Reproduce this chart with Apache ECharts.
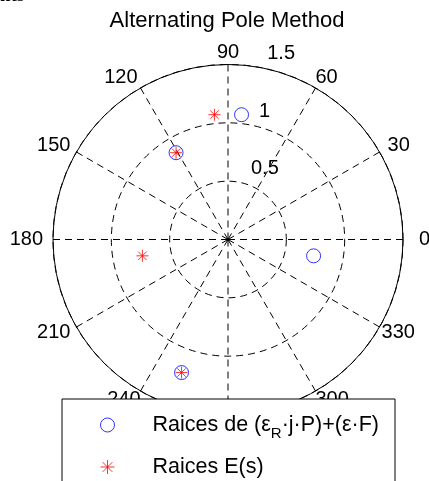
<!DOCTYPE html>
<html>
<head>
<meta charset="utf-8">
<script src="https://cdn.jsdelivr.net/npm/echarts@6/dist/echarts.min.js"></script>
<style>
  html, body { margin: 0; padding: 0; background: #fff; }
  #chart { width: 429px; height: 481px; }
</style>
</head>
<body>
<div id="chart"></div>
<script>
// Root locations in polar form: [radius, angle in degrees]
const rootsPF = [[1.076, 83.8], [0.867, 120.9], [0.747, 349.2], [1.208, 250.75]];
const rootsE  = [[1.076, 96.2], [0.867, 120.9], [0.747, 190.8], [1.208, 250.75]];

const seriesNames = ['Raices de (εR·j·P)+(ε·F)', 'Raices E(s)'];
const titleText = 'Alternating Pole Method';
const radiusMax = 1.5;
const radiusStep = 0.5;
const angleStep = 30;

const FONT = '"Liberation Sans", Arial, Helvetica, sans-serif';
const STAR = 'path://M0,-6L0,6M-6,0L6,0M-4.2,-4.2L4.2,4.2M-4.2,4.2L4.2,-4.2';
const CENTER = [228, 239.5];
const RADIUS = 175;

// Per-angle label styles: pull each angle label onto the centred ring used by
// classic polar plots (padding pushes away from the anchor, lineHeight trims the box)
const angleLabelRich = {
  l0:   { padding: [0, 0, 0, 16] },
  l30:  { padding: [0, 0, 0, 8], lineHeight: 13 },
  l60:  {},
  l90:  { padding: [0, 0, 2, 0] },
  l120: { padding: [0, 3, 0, 0] },
  l150: { padding: [0, 6, 0, 0], lineHeight: 13 },
  l180: { padding: [0, 10, 0, 0] },
  l210: { padding: [0, 6, 0, 0], lineHeight: 10 },
  l240: { lineHeight: 16 },
  l270: {},
  l300: { lineHeight: 16 },
  l330: { padding: [0, 0, 0, 2], lineHeight: 10 }
};
Object.keys(angleLabelRich).forEach(k => {
  angleLabelRich[k] = Object.assign({ fontFamily: FONT, fontSize: 20, color: '#000' }, angleLabelRich[k]);
});

const chart = echarts.init(document.getElementById('chart'), null, { renderer: 'canvas' });

const dashed = { color: '#000', width: 1, type: [7, 5] };

chart.setOption({
  animation: false,
  backgroundColor: '#fff',
  graphic: [
    {
      type: 'text', left: 0, top: -13, z: 10,
      style: { text: 'nts', font: 'bold 19px "Liberation Serif", serif', fill: '#000' }
    },
    {
      type: 'text', x: 227, y: 21, z: 10,
      style: {
        text: titleText, align: 'center', verticalAlign: 'middle',
        font: '22px ' + FONT, fill: '#000'
      }
    }
  ],
  polar: [
    { center: CENTER, radius: RADIUS },
    { center: CENTER, radius: RADIUS }
  ],
  angleAxis: [
    {
      polarIndex: 0, type: 'value', min: 0, max: 360, interval: angleStep,
      startAngle: 0, clockwise: false,
      axisLine: { lineStyle: { color: '#000', width: 1 } },
      axisTick: { show: false },
      splitLine: { show: true, lineStyle: dashed },
      axisLabel: {
        margin: 0, color: '#000', fontFamily: FONT, fontSize: 20,
        rich: angleLabelRich,
        formatter: v => (v === 360 ? '' : '{l' + v + '|' + v + '}')
      }
    },
    {
      polarIndex: 1, type: 'value', min: 0, max: 360, startAngle: 82, clockwise: false,
      axisLine: { show: false }, axisTick: { show: false },
      axisLabel: { show: false }, splitLine: { show: false }
    }
  ],
  radiusAxis: [
    {
      polarIndex: 0, type: 'value', min: 0, max: radiusMax, interval: radiusStep,
      axisLine: { show: false }, axisTick: { show: false }, axisLabel: { show: false },
      splitLine: { show: true, lineStyle: dashed }
    },
    {
      polarIndex: 1, type: 'value', min: 0, max: radiusMax, interval: radiusStep,
      axisLine: { show: false }, axisTick: { show: false }, splitLine: { show: false },
      axisLabel: {
        showMinLabel: false, margin: -15, align: 'left', verticalAlign: 'bottom',
        padding: [0, 0, 5, 0],
        color: '#000', fontFamily: FONT, fontSize: 20
      }
    }
  ],
  legend: {
    orient: 'vertical', left: 62, top: 399, height: 160,
    padding: [15, 16, 30, 38],
    itemWidth: 14, itemHeight: 14, itemGap: 9,
    backgroundColor: '#fff', borderColor: '#000', borderWidth: 1,
    textStyle: {
      fontFamily: FONT, fontSize: 21.5, color: '#000', lineHeight: 24,
      padding: [0, 0, 0, 33],
      rich: {
        a: { fontFamily: FONT, fontSize: 21.5, lineHeight: 22, verticalAlign: 'top', color: '#000' },
        s: { fontFamily: FONT, fontSize: 15, lineHeight: 17, padding: [12.5, 0, 4.5, 0],
             verticalAlign: 'top', color: '#000' }
      }
    },
    formatter: name => name === seriesNames[0]
      ? '{a|Raices de (ε}{s|R}{a|·j·P)+(ε·F)}'
      : name,
    data: [
      { name: seriesNames[0], icon: 'circle',
        itemStyle: { color: 'transparent', borderColor: '#0000ff', borderWidth: 1 } },
      { name: seriesNames[1], icon: STAR,
        itemStyle: { color: 'transparent', borderColor: '#ff0000', borderWidth: 1 } }
    ]
  },
  series: [
    {
      name: seriesNames[0], type: 'scatter', coordinateSystem: 'polar', polarIndex: 0,
      symbol: 'circle', symbolSize: 14, z: 3,
      itemStyle: { color: 'transparent', borderColor: '#0000ff', borderWidth: 1 },
      data: rootsPF
    },
    {
      name: seriesNames[1], type: 'scatter', coordinateSystem: 'polar', polarIndex: 0,
      symbol: STAR, symbolSize: 12, z: 4,
      itemStyle: { color: 'transparent', borderColor: '#ff0000', borderWidth: 1 },
      data: rootsE
    }
  ]
});
</script>
</body>
</html>
